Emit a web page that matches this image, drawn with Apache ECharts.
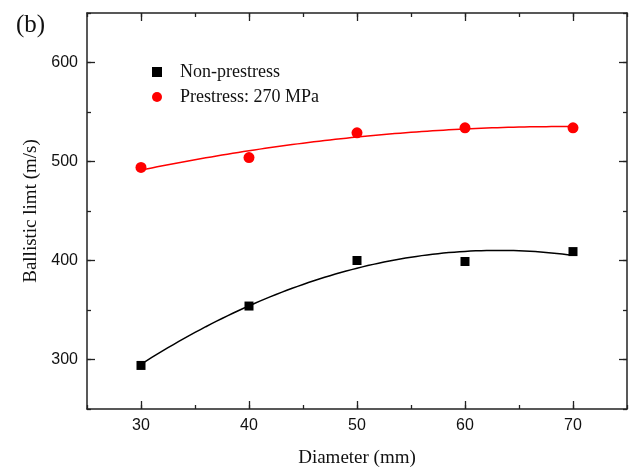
<!DOCTYPE html>
<html>
<head>
<meta charset="utf-8">
<script src="https://cdn.jsdelivr.net/npm/echarts@6/dist/echarts.min.js"></script>
<style>
  html, body { margin: 0; padding: 0; background: #fff; }
  #chart { width: 635px; height: 470px; }
</style>
</head>
<body>
<div id="chart"></div>
<script>
// Measured ballistic limits against target diameter
const diameters = [30, 40, 50, 60, 70];
const nonPrestress = [294, 354, 400, 399, 409];
const prestress270 = [494, 504, 529, 534, 534];

// Tick positions for the major/minor tick axes
const xTickValues = ['25', '30', '35', '40', '45', '50', '55', '60', '65', '70', '75'];
const yTickValues = ['250', '300', '350', '400', '450', '500', '550', '600', '650'];

// Second-order least-squares fit of y on x
function quadFit(xs, ys) {
  let s = [0, 0, 0, 0, 0], t = [0, 0, 0];
  xs.forEach((x, i) => {
    for (let k = 0; k <= 4; k++) s[k] += Math.pow(x, k);
    for (let k = 0; k <= 2; k++) t[k] += Math.pow(x, k) * ys[i];
  });
  const A = [[s[0], s[1], s[2], t[0]], [s[1], s[2], s[3], t[1]], [s[2], s[3], s[4], t[2]]];
  for (let c = 0; c < 3; c++) {
    for (let r = c + 1; r < 3; r++) {
      const f = A[r][c] / A[c][c];
      for (let k = c; k < 4; k++) A[r][k] -= f * A[c][k];
    }
  }
  const coef = [0, 0, 0];
  for (let r = 2; r >= 0; r--) {
    let v = A[r][3];
    for (let k = r + 1; k < 3; k++) v -= A[r][k] * coef[k];
    coef[r] = v / A[r][r];
  }
  return coef;
}
function fitCurve(xs, ys) {
  const c = quadFit(xs, ys);
  const lo = Math.min(...xs), hi = Math.max(...xs);
  const pts = [];
  for (let x = lo; x <= hi + 1e-9; x += 0.5) pts.push([x, c[0] + c[1] * x + c[2] * x * x]);
  return pts;
}

const AXIS_COLOR = '#222';
const serif = '"Liberation Serif", "Times New Roman", serif';
const sans = '"Liberation Sans", Arial, sans-serif';

function valueAxis(pos, isX, showLabel) {
  return {
    type: 'value', position: pos,
    min: isX ? 25 : 250, max: isX ? 75 : 650, interval: isX ? 5 : 50,
    splitLine: { show: false },
    axisLine: { show: true, onZero: false, lineStyle: { color: AXIS_COLOR, width: 1.5 } },
    axisTick: { show: true, inside: true, length: 4, lineStyle: { color: AXIS_COLOR, width: 1.3 } },
    axisLabel: {
      show: showLabel, margin: 9, color: '#111', fontFamily: sans, fontSize: 16,
      formatter: v => (v % (isX ? 10 : 100) === 0 ? String(v) : '')
    }
  };
}
function majorTickAxis(pos, isX) {
  return {
    type: 'category', position: pos, boundaryGap: false,
    data: isX ? xTickValues : yTickValues,
    axisLine: { show: false },
    axisLabel: { show: false },
    splitLine: { show: false },
    axisTick: {
      show: true, inside: true, length: 8, alignWithLabel: true,
      interval: (i) => i % 2 === 1,
      lineStyle: { color: AXIS_COLOR, width: 1.3 }
    }
  };
}

const xMain = valueAxis('bottom', true, true);
xMain.name = 'Diameter (mm)';
xMain.nameLocation = 'middle';
xMain.nameGap = 40;
xMain.nameTextStyle = { fontFamily: serif, fontSize: 19, color: '#111' };

const yMain = valueAxis('left', false, true);
yMain.name = 'Ballistic limt (m/s)';
yMain.nameLocation = 'middle';
yMain.nameGap = 46;
yMain.nameTextStyle = { fontFamily: serif, fontSize: 19, color: '#111' };

const chart = echarts.init(document.getElementById('chart'), null, { renderer: 'canvas' });
chart.setOption({
  animation: false,
  backgroundColor: '#fff',
  title: {
    text: '(b)', left: 11, top: 8,
    textStyle: { fontFamily: serif, fontSize: 25, fontWeight: 'normal', color: '#111' }
  },
  grid: { left: 87, right: 8, top: 13, bottom: 61, containLabel: false, outerBoundsMode: 'none' },
  legend: {
    orient: 'vertical', left: 147, top: 58, itemGap: 7,
    itemWidth: 10, itemHeight: 10,
    data: [
      { name: 'Non-prestress', icon: 'rect' },
      { name: 'Prestress: 270 MPa', icon: 'circle' }
    ],
    itemStyle: { opacity: 1 },
    textStyle: { fontFamily: serif, fontSize: 18, color: '#111', padding: [0, 0, 0, 13] }
  },
  xAxis: [xMain, majorTickAxis('bottom', true), valueAxis('top', true, false), majorTickAxis('top', true)],
  yAxis: [yMain, majorTickAxis('left', false), valueAxis('right', false, false), majorTickAxis('right', false)],
  series: [
    {
      name: 'Non-prestress fit', type: 'line', xAxisIndex: 0, yAxisIndex: 0,
      data: fitCurve(diameters, nonPrestress), showSymbol: false, smooth: false,
      lineStyle: { color: '#000', width: 1.5 }, z: 2, silent: true
    },
    {
      name: 'Prestress fit', type: 'line', xAxisIndex: 0, yAxisIndex: 0,
      data: fitCurve(diameters, prestress270), showSymbol: false, smooth: false,
      lineStyle: { color: '#ff0000', width: 1.5 }, z: 2, silent: true
    },
    {
      name: 'Non-prestress', type: 'scatter', xAxisIndex: 0, yAxisIndex: 0,
      data: diameters.map((d, i) => [d, nonPrestress[i]]),
      symbol: 'rect', symbolSize: 9, itemStyle: { color: '#000', opacity: 1 }, z: 3
    },
    {
      name: 'Prestress: 270 MPa', type: 'scatter', xAxisIndex: 0, yAxisIndex: 0,
      data: diameters.map((d, i) => [d, prestress270[i]]),
      symbol: 'circle', symbolSize: 11, itemStyle: { color: '#ff0000', opacity: 1 }, z: 3
    }
  ]
});
</script>
</body>
</html>
